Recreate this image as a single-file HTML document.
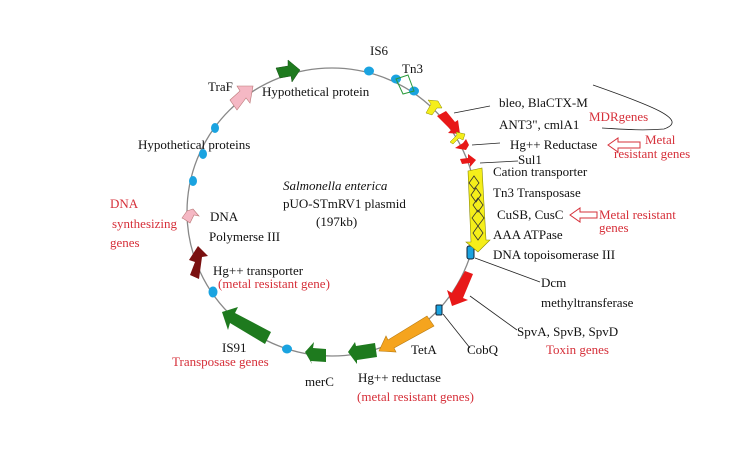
<!DOCTYPE html>
<html><head><style>
html,body{margin:0;padding:0;background:#fff}
svg{display:block}
text{font-family:"Liberation Serif",serif;font-size:13px;fill:#111}
.r{fill:#d6303a}
</style></head><body>
<svg width="749" height="454" viewBox="0 0 749 454">
<ellipse cx="332" cy="212" rx="145" ry="144" fill="none" stroke="#888" stroke-width="1.3"/>
<polygon points="276,68 288,66 288,60 300,70 292,82 291,76 280,78" fill="#1e7a1e" stroke="#145014" stroke-width="0.5"/>
<polygon points="230,100 240,91 237,86 253,86 250,103 246,98 237,110" fill="#f5b8c4" stroke="#b77" stroke-width="0.6"/>
<g fill="#1aa3e0">
<ellipse cx="369" cy="71" rx="5" ry="4.5"/>
<ellipse cx="396" cy="79" rx="5" ry="4.5"/>
<ellipse cx="414" cy="91" rx="5" ry="4.5"/>
<ellipse cx="215" cy="128" rx="4" ry="5"/>
<ellipse cx="203" cy="154" rx="4" ry="5"/>
<ellipse cx="193" cy="181" rx="4" ry="5"/>
<ellipse cx="213" cy="292" rx="4.5" ry="5.5"/>
<ellipse cx="287" cy="349" rx="5" ry="4.5"/>
</g>
<polygon points="396,79 408,75 414,91 403,94" fill="none" stroke="#2a9a3a" stroke-width="1"/>
<polygon points="182,218 187,211 193,209 199,216 194,215 190,223 184,219" fill="#f5b8c4" stroke="#b77" stroke-width="0.6"/>
<polygon points="190,275 195,262 189,260 198,246 208,256 202,257 199,279" fill="#7a1010"/>
<polygon points="271,332 265,344 230,323 228,330 222,312 238,307 235,313" fill="#1e7a1e"/>
<polygon points="326,349 326,362 311,361 312,364 305,352 314,342 313,348" fill="#1e7a1e"/>
<polygon points="375,343 377,357 357,360 357,364 348,352 355,342 356,346" fill="#1e7a1e"/>
<polygon points="427,316 434,326 394,348 396,352 379,351 386,336 388,340" fill="#f5a41e" stroke="#b77a10" stroke-width="0.6"/>
<rect x="436" y="305" width="6" height="10" rx="1" fill="#1aa3e0" stroke="#123" stroke-width="1"/>
<polygon points="465,271 473,274 463,298 468,300 452,306 447,290 452,293" fill="#e81818"/>
<rect x="467" y="246" width="7" height="13" rx="2" fill="#1aa3e0" stroke="#123" stroke-width="1"/>
<polygon points="468,171 482,168 486,240 490,240 478,252 466,242 471,242" fill="#f5ee1a" stroke="#8a8a00" stroke-width="0.6"/>
<g fill="none" stroke="#333" stroke-width="0.8">
<polygon points="474,176 479,183 474,189 469,183"/>
<polygon points="476,188 481,195 476,202 471,195"/>
<polygon points="478,198 483,205 478,212 473,205"/>
<polygon points="478,210 484,218 478,226 472,218"/>
<polygon points="478,226 483,233 478,240 473,233"/>
</g>
<polygon points="426,113 431,104 428,100 438,101 442,108 437,108 432,115" fill="#f5ee1a" stroke="#8a8a00" stroke-width="0.5"/>
<polygon points="437,116 446,111 455,122 458,120 460,134 448,133 451,130" fill="#e81818"/>
<polygon points="450,142 457,135 456,132 465,134 463,140 459,138 453,144" fill="#f5ee1a" stroke="#8a8a00" stroke-width="0.5"/>
<polygon points="455,148 463,143 466,139 469,145 466,150 460,149" fill="#e81818"/>
<polygon points="460,159 468,158 468,154 476,160 470,167 470,163 462,164" fill="#e81818"/>
<g stroke="#222" stroke-width="0.8" fill="none">
<line x1="454" y1="113" x2="490" y2="106"/>
<line x1="472" y1="145" x2="500" y2="143"/>
<line x1="480" y1="163" x2="518" y2="161"/>
<line x1="475" y1="258" x2="540" y2="282"/>
<line x1="470" y1="296" x2="517" y2="330"/>
<line x1="443" y1="314" x2="470" y2="348"/>
<path d="M593,85 C650,105 690,120 664,129 C640,131 620,129 602,128"/>
</g>
<g fill="none" stroke="#d6303a" stroke-width="1">
<polygon points="608,145 618,138 618,142 640,142 640,148 618,148 618,152"/>
<polygon points="570,215 580,208 580,212 597,212 597,218 580,218 580,222"/>
</g>
<text x="370" y="55">IS6</text>
<text x="402" y="73">Tn3</text>
<text x="208" y="91">TraF</text>
<text x="262" y="96">Hypothetical  protein</text>
<text x="138" y="149">Hypothetical proteins</text>
<text x="283" y="190" font-style="italic">Salmonella enterica</text>
<text x="283" y="208">pUO-STmRV1 plasmid</text>
<text x="316" y="226">(197kb)</text>
<text x="499" y="107">bleo, BlaCTX-M</text>
<text x="499" y="129">ANT3", cmlA1</text>
<text x="589" y="121" class="r">MDRgenes</text>
<text x="510" y="149">Hg++ Reductase</text>
<text x="645" y="144" class="r">Metal</text>
<text x="614" y="158" class="r">resistant genes</text>
<text x="518" y="164">Sul1</text>
<text x="493" y="176">Cation transporter</text>
<text x="493" y="197">Tn3 Transposase</text>
<text x="497" y="219">CuSB, CusC</text>
<text x="599" y="219" class="r">Metal resistant</text>
<text x="599" y="232" class="r">genes</text>
<text x="493" y="239">AAA ATPase</text>
<text x="493" y="259">DNA topoisomerase III</text>
<text x="541" y="287">Dcm</text>
<text x="541" y="307">methyltransferase</text>
<text x="517" y="336">SpvA, SpvB, SpvD</text>
<text x="546" y="354" class="r">Toxin genes</text>
<text x="467" y="354">CobQ</text>
<text x="411" y="354">TetA</text>
<text x="358" y="382">Hg++ reductase</text>
<text x="357" y="401" class="r">(metal resistant genes)</text>
<text x="305" y="386">merC</text>
<text x="222" y="352">IS91</text>
<text x="172" y="366" class="r">Transposase genes</text>
<text x="213" y="275">Hg++ transporter</text>
<text x="218" y="288" class="r">(metal resistant gene)</text>
<text x="210" y="221">DNA</text>
<text x="209" y="241">Polymerse III</text>
<text x="110" y="208" class="r">DNA</text>
<text x="112" y="228" class="r">synthesizing</text>
<text x="110" y="247" class="r">genes</text>
</svg>
</body></html>
